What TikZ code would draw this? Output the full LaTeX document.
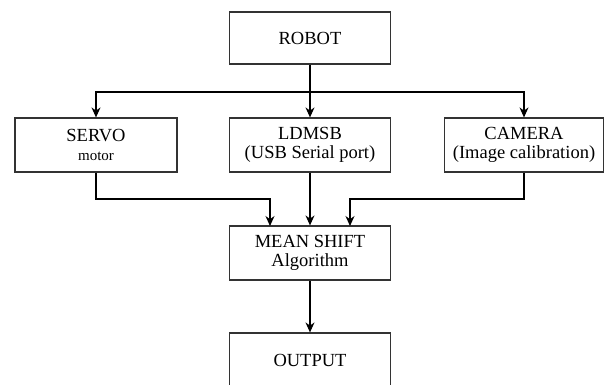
\documentclass[tikz,border=0pt]{standalone}
\usepackage{fontspec}
\setmainfont{Liberation Serif}
\usetikzlibrary{arrows.meta}
\begin{document}
\begin{tikzpicture}[x=1pt,y=1pt,
  blockbox/.style={draw=black!80, line width=1.2pt, minimum width=161pt, minimum height=54pt,
    align=center, font=\fontsize{18.5}{19}\selectfont, inner sep=0pt},
  link/.style={draw=black, line width=1.1pt, -{Stealth[length=10pt,width=9pt]}}]
\useasboundingbox (0,0) rectangle (605,384);
\clip (0,0) rectangle (605,384);
\node[blockbox, minimum height=52pt] (robot) at (310,346) {ROBOT};
\node[blockbox, minimum width=162pt] (servo) at (96,239) {SERVO\\{\fontsize{15}{19}\selectfont motor}};
\node[blockbox] (ldmsb) at (310,239) {LDMSB\\(USB Serial port)};
\node[blockbox, minimum width=159pt] (camera) at (524,239) {CAMERA\\(Image calibration)};
\node[blockbox] (mean) at (310,131) {MEAN SHIFT\\Algorithm};
\node[blockbox] (output) at (310,24) {OUTPUT};
\coordinate (split) at (310,292);
% fan-out from the robot
\draw[line width=1.1pt] (robot.south) -- (split);
\draw[link] (split) -| (servo.north);
\draw[link] (split) -- (ldmsb.north);
\draw[link] (split) -| (camera.north);
% merge into the algorithm
\draw[link] (servo.south) |- (270,185) -- (270,158);
\draw[link] (ldmsb.south) -- (mean.north);
\draw[link] (camera.south) |- (350,185) -- (350,158);
\draw[link] (mean.south) -- (output.north);
\end{tikzpicture}
\end{document}
